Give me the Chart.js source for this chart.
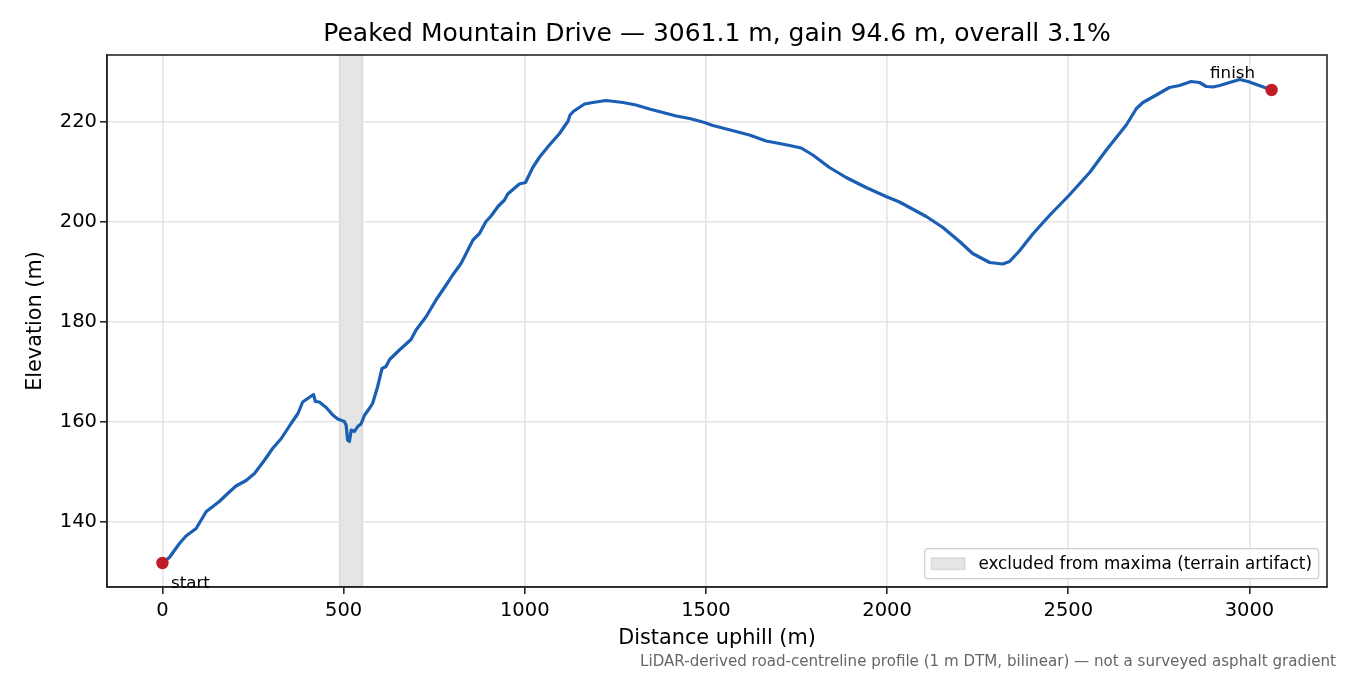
<!DOCTYPE html>
<html><head><meta charset="utf-8">
<script src="https://cdn.jsdelivr.net/npm/chart.js@4.4.1/dist/chart.umd.min.js"></script>
<style>html,body{margin:0;padding:0;background:#fff}#wrap{width:1350px;height:675px}</style>
</head><body><div id="wrap"><canvas id="c" width="1350" height="675"></canvas></div>
<script>
const titleText = "Peaked Mountain Drive \u2014 3061.1 m, gain 94.6 m, overall 3.1%";
const xLabel = "Distance uphill (m)";
const yLabel = "Elevation (m)";
const footnote = "LiDAR-derived road-centreline profile (1 m DTM, bilinear) \u2014 not a surveyed asphalt gradient";
const bandLabel = "excluded from maxima (terrain artifact)";
const endpointLabels = ["start", "finish"];
const excludedBand = [489, 552];
const xTicks = [0, 500, 1000, 1500, 2000, 2500, 3000];
const yTicks = [140, 160, 180, 200, 220];
const distance = [0, 19, 47, 65, 93, 107, 121, 157, 180, 203, 231, 254, 282, 304, 328, 355, 374, 387, 401, 417, 422, 433, 452, 470, 484, 502, 507, 511, 516, 521, 530, 539, 548, 558, 571, 580, 594, 606, 617, 627, 654, 686, 700, 728, 755, 783, 801, 824, 843, 857, 875, 893, 907, 926, 944, 953, 985, 1002, 1022, 1041, 1068, 1096, 1112, 1119, 1125, 1134, 1146, 1165, 1188, 1224, 1271, 1307, 1344, 1418, 1455, 1496, 1519, 1583, 1620, 1666, 1703, 1731, 1763, 1795, 1841, 1887, 1942, 1997, 2034, 2108, 2154, 2200, 2236, 2283, 2319, 2338, 2365, 2402, 2448, 2503, 2559, 2605, 2660, 2688, 2706, 2743, 2779, 2807, 2839, 2862, 2881, 2899, 2918, 2945, 2973, 2996, 3019, 3061.1];
const elevation = [131.8, 132.9, 135.7, 137.2, 138.7, 140.4, 142.1, 144.1, 145.7, 147.2, 148.3, 149.7, 152.4, 154.7, 156.7, 159.7, 161.7, 164.0, 164.7, 165.5, 164.1, 164.0, 162.9, 161.4, 160.6, 160.1, 159.4, 156.4, 156.1, 158.4, 158.1, 159.1, 159.6, 161.4, 162.7, 163.7, 167.1, 170.7, 171.1, 172.5, 174.4, 176.5, 178.4, 181.1, 184.4, 187.4, 189.4, 191.7, 194.4, 196.4, 197.7, 200.1, 201.2, 203.1, 204.4, 205.6, 207.6, 207.9, 210.9, 213.0, 215.4, 217.7, 219.4, 220.1, 221.4, 222.1, 222.7, 223.6, 223.9, 224.3, 223.9, 223.4, 222.6, 221.2, 220.7, 219.9, 219.3, 218.1, 217.4, 216.2, 215.7, 215.3, 214.8, 213.4, 210.9, 208.9, 206.9, 205.1, 204.0, 201.1, 198.9, 196.1, 193.7, 191.9, 191.6, 192.1, 194.2, 197.6, 201.3, 205.4, 209.9, 214.4, 219.4, 222.7, 223.9, 225.4, 226.9, 227.3, 228.1, 227.9, 227.1, 227.0, 227.3, 227.9, 228.5, 228.1, 227.5, 226.4];

const FONT = '"DejaVu Sans", sans-serif';
Chart.defaults.font.family = FONT;
Chart.defaults.color = '#000';

const profile = distance.map((d, i) => ({x: d, y: elevation[i]}));
const last = distance.length - 1;
const endpoints = [{x: distance[0], y: elevation[0]}, {x: distance[last], y: elevation[last]}];

const BAND_FILL = 'rgba(154,153,150,0.25)';

const bandPlugin = {
  id: 'band',
  beforeDraw(chart) {
    const {ctx, chartArea: a, scales: {x}} = chart;
    ctx.save();
    ctx.fillStyle = '#fff';
    ctx.fillRect(0, 0, chart.width, chart.height);
    const x0 = x.getPixelForValue(excludedBand[0]);
    const x1 = x.getPixelForValue(excludedBand[1]);
    ctx.fillStyle = BAND_FILL;
    ctx.fillRect(x0, a.top, x1 - x0, a.bottom - a.top);
    ctx.strokeStyle = BAND_FILL;
    ctx.lineWidth = 1.6;
    ctx.strokeRect(x0, a.top, x1 - x0, a.bottom - a.top);
    ctx.restore();
  }
};

const decoPlugin = {
  id: 'deco',
  afterDraw(chart) {
    const {ctx, chartArea: a} = chart;
    ctx.save();
    ctx.strokeStyle = '#262626';
    ctx.lineWidth = 1.6;
    ctx.strokeRect(a.left, a.top, a.right - a.left, a.bottom - a.top);
    const pts = chart.getDatasetMeta(1).data;
    ctx.font = '16.7px ' + FONT;
    ctx.fillStyle = '#000';
    ctx.textBaseline = 'alphabetic';
    ctx.textAlign = 'left';
    ctx.fillText(endpointLabels[0], pts[0].x + 8.5, pts[0].y + 24.5);
    ctx.textAlign = 'right';
    ctx.fillText(endpointLabels[1], pts[1].x - 16.5, pts[1].y - 12);
    const fs = 16.8;
    ctx.font = fs + 'px ' + FONT;
    const tw = ctx.measureText(bandLabel).width;
    const pad = 0.4 * fs, hl = 2.0 * fs, htp = 0.8 * fs;
    const w = pad + hl + htp + tw + pad;
    const h = 30;
    const right = a.right - 8.3, bottom = a.bottom - 8.3;
    const left = right - w, top = bottom - h;
    ctx.beginPath();
    if (ctx.roundRect) ctx.roundRect(left, top, w, h, 3.3); else ctx.rect(left, top, w, h);
    ctx.fillStyle = 'rgba(255,255,255,0.8)';
    ctx.fill();
    ctx.strokeStyle = '#d0d0d0';
    ctx.lineWidth = 1.2;
    ctx.stroke();
    const cy = top + h / 2;
    ctx.fillStyle = BAND_FILL;
    ctx.fillRect(left + pad, cy - 0.35 * fs, hl, 0.7 * fs);
    ctx.strokeStyle = BAND_FILL;
    ctx.lineWidth = 1.4;
    ctx.strokeRect(left + pad, cy - 0.35 * fs, hl, 0.7 * fs);
    ctx.fillStyle = '#000';
    ctx.textAlign = 'left';
    ctx.textBaseline = 'middle';
    ctx.fillText(bandLabel, left + pad + hl + htp, cy + 1);
    ctx.font = '15.1px ' + FONT;
    ctx.fillStyle = '#666666';
    ctx.textAlign = 'right';
    ctx.textBaseline = 'alphabetic';
    ctx.fillText(footnote, 1336, 665.5);
    ctx.restore();
  }
};

new Chart(document.getElementById('c'), {
  type: 'line',
  data: {
    datasets: [
      {label: 'profile', order: 1, data: profile, borderColor: '#1a5fb4', borderWidth: 3.2, borderJoinStyle: 'round', borderCapStyle: 'round', pointRadius: 0, tension: 0, fill: false},
      {label: 'endpoints', order: 0, data: endpoints, showLine: false, pointRadius: 6.2, pointHoverRadius: 6.2, backgroundColor: '#c01c28', borderColor: '#c01c28', borderWidth: 0}
    ]
  },
  options: {
    responsive: false,
    devicePixelRatio: 1,
    animation: false,
    events: [],
    layout: {padding: {left: 0, right: 23, top: 0, bottom: 0}},
    plugins: {
      legend: {display: false},
      tooltip: {enabled: false},
      title: {display: true, text: titleText, fullSize: false, color: '#000', font: {size: 25, weight: 'normal', family: FONT, lineHeight: 1.2}, padding: {top: 19, bottom: 6}}
    },
    scales: {
      x: {
        type: 'linear', min: -153, max: 3214,
        afterBuildTicks: s => { s.ticks = xTicks.map(v => ({value: v})); },
        afterFit: s => { s.height = 88; },
        ticks: {font: {size: 19.5}, color: '#000', padding: 5, maxRotation: 0, callback: v => String(v)},
        grid: {color: '#e5e5e5', lineWidth: 1.6, tickLength: 7, tickColor: '#262626', tickWidth: 1.6},
        border: {display: true, color: '#262626', width: 1.6},
        title: {display: true, text: xLabel, color: '#000', font: {size: 20.8}, padding: {top: 0, bottom: 23.5}}
      },
      y: {
        type: 'linear', min: 127, max: 233.4,
        afterBuildTicks: s => { s.ticks = yTicks.map(v => ({value: v})); },
        afterFit: s => { s.width = 107; },
        ticks: {font: {size: 19.5}, color: '#000', padding: 3, callback: v => String(v)},
        grid: {color: '#e5e5e5', lineWidth: 1.6, tickLength: 7, tickColor: '#262626', tickWidth: 1.6},
        border: {display: true, color: '#262626', width: 1.6},
        title: {display: true, text: yLabel, color: '#000', font: {size: 20.8}, padding: {top: 23.2, bottom: 0}}
      }
    }
  },
  plugins: [bandPlugin, decoPlugin]
});
</script>
</body></html>
